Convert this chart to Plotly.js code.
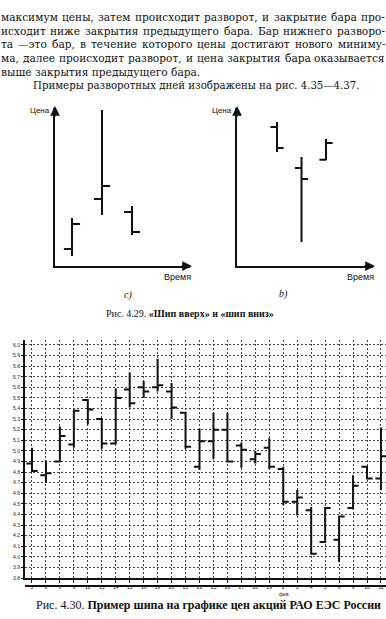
<!DOCTYPE html>
<html>
<head>
<meta charset="utf-8">
<script src="https://cdn.plot.ly/plotly-3.0.1.min.js"></script>
<style>
  html, body { margin: 0; padding: 0; background: #fff; }
  #page { width: 386px; height: 619px; }
</style>
</head>
<body>
<div id="page"></div>
<script>
// Fig. 4.29 a) — "spike up": three bars, the middle one pokes far above its neighbours
const spikeUpX = [1, 3, 5];
const spikeUpOpen = [1.08, 4.24, 3.42];
const spikeUpHigh = [3.04, 9.87, 3.80];
const spikeUpLow = [0.63, 3.23, 1.96];
const spikeUpClose = [2.66, 5.06, 2.15];

// Fig. 4.29 b) — "spike down": the middle bar drops far below its neighbours
const spikeDownX = [1, 2, 3];
const spikeDownOpen = [8.80, 6.20, 6.72];
const spikeDownHigh = [9.11, 6.90, 8.04];
const spikeDownLow = [7.22, 1.52, 6.70];
const spikeDownClose = [7.47, 5.51, 7.78];

// Fig. 4.30 — daily bars of RAO UES shares
const dayLabels = ['5', '6', '8', '9', '12', '13', '14', '15', '16', '19', '20', '21', '22',
                   '23', '26', '27', '28', '29', '2', '3', '4', '5', '6', '9', '10', '11'];
const priceOpen = [4.88, 4.77, 4.90, 5.06, 5.48, 5.30, 5.07, 5.58, 5.60, 5.60, 5.56, 5.36, 4.85,
                   5.09, 5.20, 5.05, 4.92, 5.03, 4.83, 4.52, 4.44, 4.14, 4.16, 4.46, 4.85, 4.74];
const priceHigh = [5.03, 4.91, 5.23, 5.39, 5.49, 5.31, 5.59, 5.74, 5.66, 5.87, 5.64, 5.37, 5.21,
                   5.36, 5.36, 5.08, 5.00, 5.12, 4.85, 4.63, 4.47, 4.47, 4.39, 4.77, 4.86, 5.22];
const priceLow = [4.80, 4.70, 4.89, 5.03, 5.25, 5.02, 5.06, 5.41, 5.50, 5.56, 5.30, 5.02, 4.82,
                  4.92, 4.89, 4.84, 4.88, 4.83, 4.49, 4.39, 4.02, 4.13, 3.95, 4.45, 4.73, 4.63];
const priceClose = [4.81, 4.79, 5.14, 5.38, 5.39, 5.07, 5.50, 5.45, 5.56, 5.62, 5.41, 5.04, 5.09,
                    5.20, 4.90, 5.01, 4.97, 4.85, 4.52, 4.56, 4.03, 4.46, 4.38, 4.67, 4.74, 4.95];
const priceTicks = [3.8, 3.9, 4.0, 4.1, 4.2, 4.3, 4.4, 4.5, 4.6, 4.7, 4.8, 4.9, 5.0,
                    5.1, 5.2, 5.3, 5.4, 5.5, 5.6, 5.7, 5.8, 5.9, 6.0];

// Book text around the figures (justified lines, then the paragraph's last line)
const justifiedLines = [
  'максимум цены, затем происходит разворот, и закрытие бара про-',
  'исходит ниже закрытия предыдущего бара. Бар нижнего разворо-',
  'та —это бар, в течение которого цены достигают нового миниму-',
  'ма, далее происходит разворот, и цена закрытия бара оказывается'
];
const paragraphEnd = 'выше закрытия предыдущего бара.';
const nextParagraph = 'Примеры разворотных дней изображены на рис. 4.35—4.37.';
const caption1 = 'Рис. 4.29. <b>«Шип вверх» и «шип вниз»</b>';
const caption2 = 'Рис. 4.30. <b>Пример шипа на графике цен акций РАО ЕЭС России</b>';

const W = 386, H = 619;
const X = px => px / W;
const Y = py => 1 - py / H;

const SERIF = 'Liberation Serif, Times New Roman, serif';
const BOOK = 'DejaVu Serif';
const BOOK_SIZE = 10.6;
const SANS = 'Liberation Sans, Arial, sans-serif';

function bars(x, o, h, l, c, xa, ya, tw, lw) {
  const line = { color: '#111', width: lw };
  return {
    type: 'ohlc', x: x, open: o, high: h, low: l, close: c,
    xaxis: xa, yaxis: ya, tickwidth: tw,
    increasing: { line: line }, decreasing: { line: line },
    hoverinfo: 'skip', showlegend: false
  };
}

const traces = [
  bars(spikeUpX, spikeUpOpen, spikeUpHigh, spikeUpLow, spikeUpClose, 'x2', 'y2', 0.27, 2),
  bars(spikeDownX, spikeDownOpen, spikeDownHigh, spikeDownLow, spikeDownClose, 'x3', 'y3', 0.27, 2),
  bars(dayLabels.map((d, i) => i + 1), priceOpen, priceHigh, priceLow, priceClose, 'x', 'y', 0.4, 2)
];

const bareAxis = {
  showgrid: false, zeroline: false, showticklabels: false, ticks: '',
  showline: true, linecolor: '#111', linewidth: 1.6, fixedrange: true,
  rangeslider: { visible: false }
};

const annotations = [];
function textAt(x, y, t, font, extra) {
  annotations.push(Object.assign({
    xref: 'paper', yref: 'paper', x: X(x), y: Y(y), xanchor: 'left', yanchor: 'middle',
    text: t, showarrow: false, borderpad: 0, borderwidth: 0, font: font
  }, extra || {}));
}

// justify body lines word by word across the text column
const measure = document.createElement('canvas').getContext('2d');
measure.font = BOOK_SIZE + 'px "' + BOOK + '"';
const bookFont = { family: BOOK, size: BOOK_SIZE, color: '#111' };
const lineStep = 13.7, firstLine = 17, colLeft = 1, colRight = 385;
justifiedLines.forEach((line, i) => {
  const words = line.split(' ');
  const widths = words.map(w => measure.measureText(w).width);
  const total = widths.reduce((a, b) => a + b, 0);
  const gap = (colRight - colLeft - total) / (words.length - 1);
  let x = colLeft;
  words.forEach((w, j) => {
    textAt(x, firstLine + i * lineStep, w, bookFont);
    x += widths[j] + gap;
  });
});
textAt(colLeft, firstLine + 4 * lineStep, paragraphEnd, bookFont);
textAt(33, 86, nextParagraph, { family: BOOK, size: 10.2, color: '#111' });

// axis arrows and labels of the two small diagrams
[[55, 190], [237, 373]].forEach(([x0, x1]) => {
  annotations.push({ xref: 'paper', yref: 'paper', x: X(x0), y: Y(106), ax: 0, ay: 12,
    axref: 'pixel', ayref: 'pixel', text: '', showarrow: true, arrowhead: 2, arrowsize: 1.3,
    arrowwidth: 1.5, arrowcolor: '#111' });
  annotations.push({ xref: 'paper', yref: 'paper', x: X(x1 + 2), y: Y(266), ax: -12, ay: 0,
    axref: 'pixel', ayref: 'pixel', text: '', showarrow: true, arrowhead: 2, arrowsize: 1.3,
    arrowwidth: 1.5, arrowcolor: '#111' });
  textAt(x0 - 5, 111, 'Цена', { family: SANS, size: 8, color: '#111' }, { xanchor: 'right' });
  textAt(x1 + 1, 277, 'Время', { family: SANS, size: 9, color: '#111' }, { xanchor: 'right' });
});
textAt(128, 295, '<i>c)</i>', { family: SERIF, size: 10, color: '#111' }, { xanchor: 'center' });
textAt(283, 294, '<i>b)</i>', { family: SERIF, size: 10, color: '#111' }, { xanchor: 'center' });
textAt(190, 313, caption1, { family: SERIF, size: 10, color: '#111' }, { xanchor: 'center' });
textAt(208, 605, caption2, { family: SERIF, size: 12, color: '#111' }, { xanchor: 'center' });
// month marker under the first February bar
textAt(284, 593.5, 'фев', { family: SANS, size: 5, color: '#222' }, { xanchor: 'center' });

const layout = {
  width: W, height: H,
  margin: { l: 0, r: 0, t: 0, b: 0 },
  paper_bgcolor: '#fff', plot_bgcolor: 'rgba(0,0,0,0)',
  showlegend: false,
  xaxis: {
    domain: [X(25), 1], range: [0.5, 26.36],
    tickmode: 'array', tickvals: dayLabels.map((d, i) => i + 1), ticktext: dayLabels,
    ticks: 'outside', ticklen: 3, tickcolor: '#111', tickwidth: 1,
    tickfont: { family: SANS, size: 5, color: '#222' },
    showgrid: true, gridcolor: '#444', gridwidth: 1, griddash: '2px,2px',
    zeroline: false, showline: true, linecolor: '#111', linewidth: 2,
    rangeslider: { visible: false }, fixedrange: true
  },
  yaxis: {
    domain: [Y(578), Y(340)], range: [3.8, 6.047],
    tickmode: 'array', tickvals: priceTicks, ticktext: priceTicks.map(v => v.toFixed(1)),
    ticks: 'outside', ticklen: 2, tickcolor: '#111',
    tickfont: { family: SANS, size: 5, color: '#222' },
    showgrid: true, gridcolor: '#444', gridwidth: 1, griddash: '2px,2px',
    zeroline: false, showline: true, linecolor: '#111', linewidth: 2, fixedrange: true
  },
  xaxis2: Object.assign({}, bareAxis, { domain: [X(55), X(190)], range: [-0.133, 8.867], anchor: 'y2' }),
  yaxis2: Object.assign({}, bareAxis, { domain: [Y(266), Y(108)], range: [0, 10], anchor: 'x2' }),
  xaxis3: Object.assign({}, bareAxis, { domain: [X(237), X(373)], range: [-0.633, 4.918], anchor: 'y3' }),
  yaxis3: Object.assign({}, bareAxis, { domain: [Y(266), Y(108)], range: [0, 10], anchor: 'x3' }),
  shapes: [
    { type: 'line', xref: 'paper', yref: 'paper', x0: X(25), x1: 1, y0: Y(586), y1: Y(586),
      line: { color: '#111', width: 2 } }
  ],
  annotations: annotations
};

Plotly.newPlot('page', traces, layout, { staticPlot: true, displayModeBar: false });
</script>
</body>
</html>
